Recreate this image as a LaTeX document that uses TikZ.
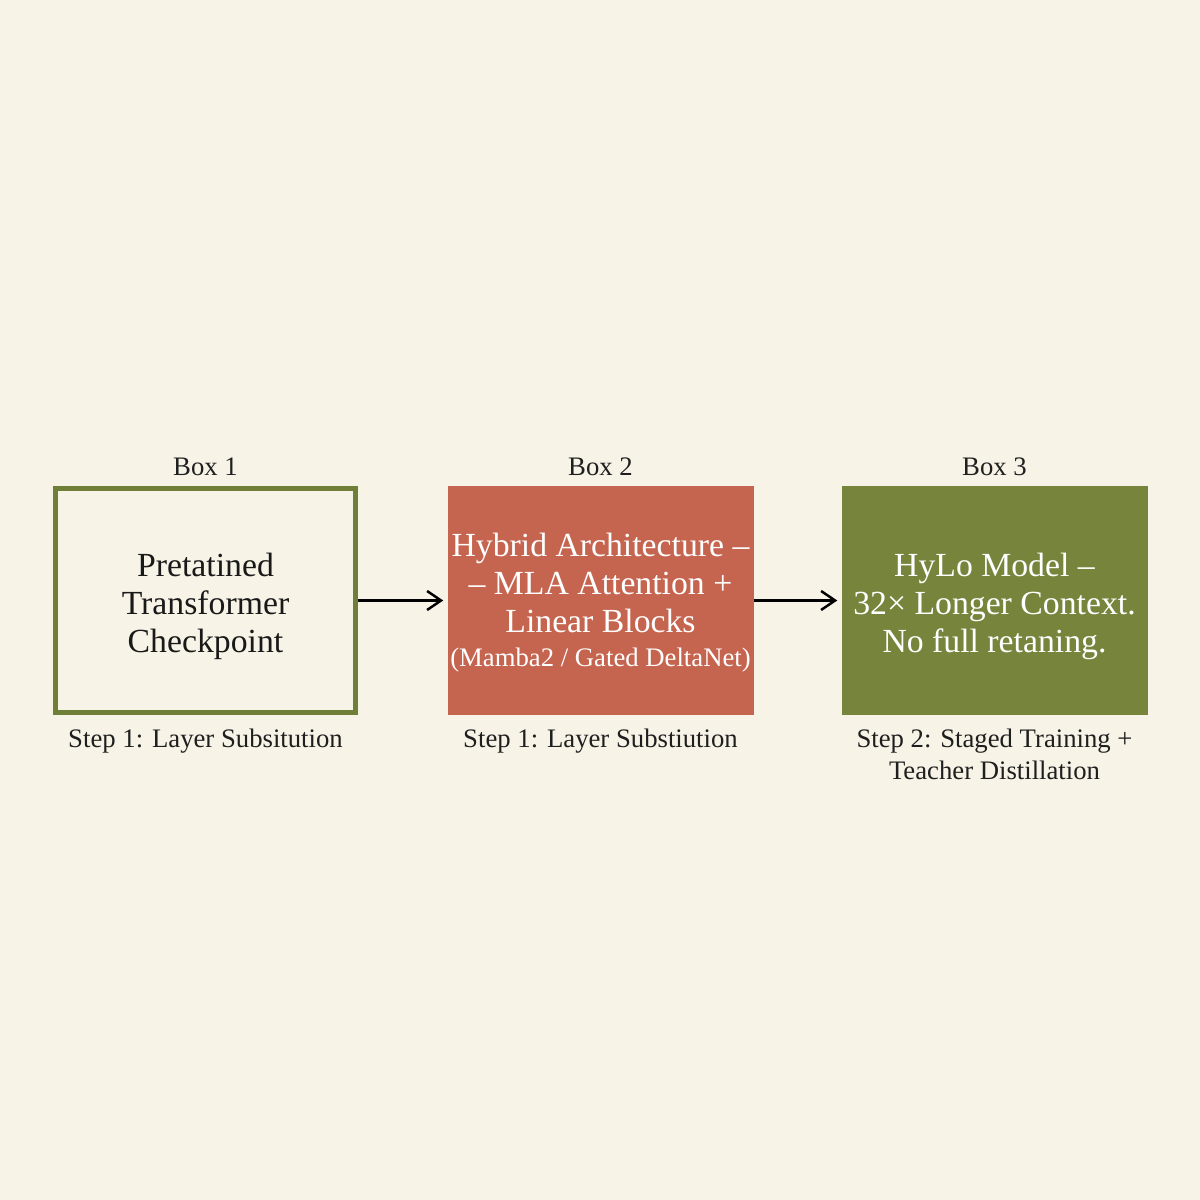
\documentclass[tikz,border=0pt]{standalone}
\usepackage{fontspec}
\setmainfont{Liberation Serif}
\usetikzlibrary{positioning,arrows.meta}
\definecolor{paper}{RGB}{247,243,230}
\definecolor{olive}{RGB}{112,127,56}
\definecolor{olivefill}{RGB}{118,132,60}
\definecolor{brick}{RGB}{198,101,79}
\begin{document}
\begin{tikzpicture}[
  box/.style={minimum width=3cm, minimum height=2.24cm, inner sep=0pt},
  outline/.style={box, draw=olive, line width=1.45pt},
  filled/.style={box, minimum width=3.06cm, minimum height=2.29cm},
  boxtext/.style={align=center, inner sep=0pt, font=\fontsize{9.6}{10.8}\selectfont},
  caption/.style={align=center, font=\fontsize{7.6}{9.1}\selectfont, text=black!88},
  link/.style={-{Straight Barb[length=1.4mm,width=1.9mm]}, line width=0.7pt}
  ]
  \fill[paper] (0,0) rectangle (12,12);
  \useasboundingbox (0,0) rectangle (12,12);
  % the three stages
  \node[outline] (ckpt) at (2.055,5.995) {};
  \node[filled, fill=brick] (hybrid) at (6.005,5.995) {};
  \node[filled, fill=olivefill] (hylo) at (9.945,5.995) {};
  \node[boxtext, text=black!90] (ckpttxt) at ([yshift=-0.6mm]ckpt.center) {Pretatined\\Transformer\\Checkpoint};
  \node[boxtext, text=white] (hybridtxt) at ([yshift=-0.2mm]hybrid.center) {Hybrid Architecture --\\-- MLA Attention +\\Linear Blocks\\[-1pt]{\fontsize{7.6}{9}\selectfont (Mamba2 / Gated DeltaNet)}};
  \node[boxtext, text=white] (hylotxt) at ([yshift=-0.6mm]hylo.center) {HyLo Model --\\32× Longer Context.\\No full retaning.};
  % titles above
  \node[caption] (title1) at (2.055,7.33) {Box 1};
  \node[caption] (title2) at (6.005,7.33) {Box 2};
  \node[caption] (title3) at (9.945,7.33) {Box 3};
  % steps below
  \node[caption] (step1) at (2.055,4.59) {Step 1: Layer Subsitution};
  \node[caption] (step2) at (6.005,4.59) {Step 1: Layer Substiution};
  \node[caption, anchor=north] (step3) at (9.945,4.83) {Step 2: Staged Training +\\Teacher Distillation};
  % arrows
  \draw[link] (ckpt.east) -- ([xshift=-1pt]hybrid.west);
  \draw[link] (hybrid.east) -- ([xshift=-1pt]hylo.west);
\end{tikzpicture}
\end{document}
